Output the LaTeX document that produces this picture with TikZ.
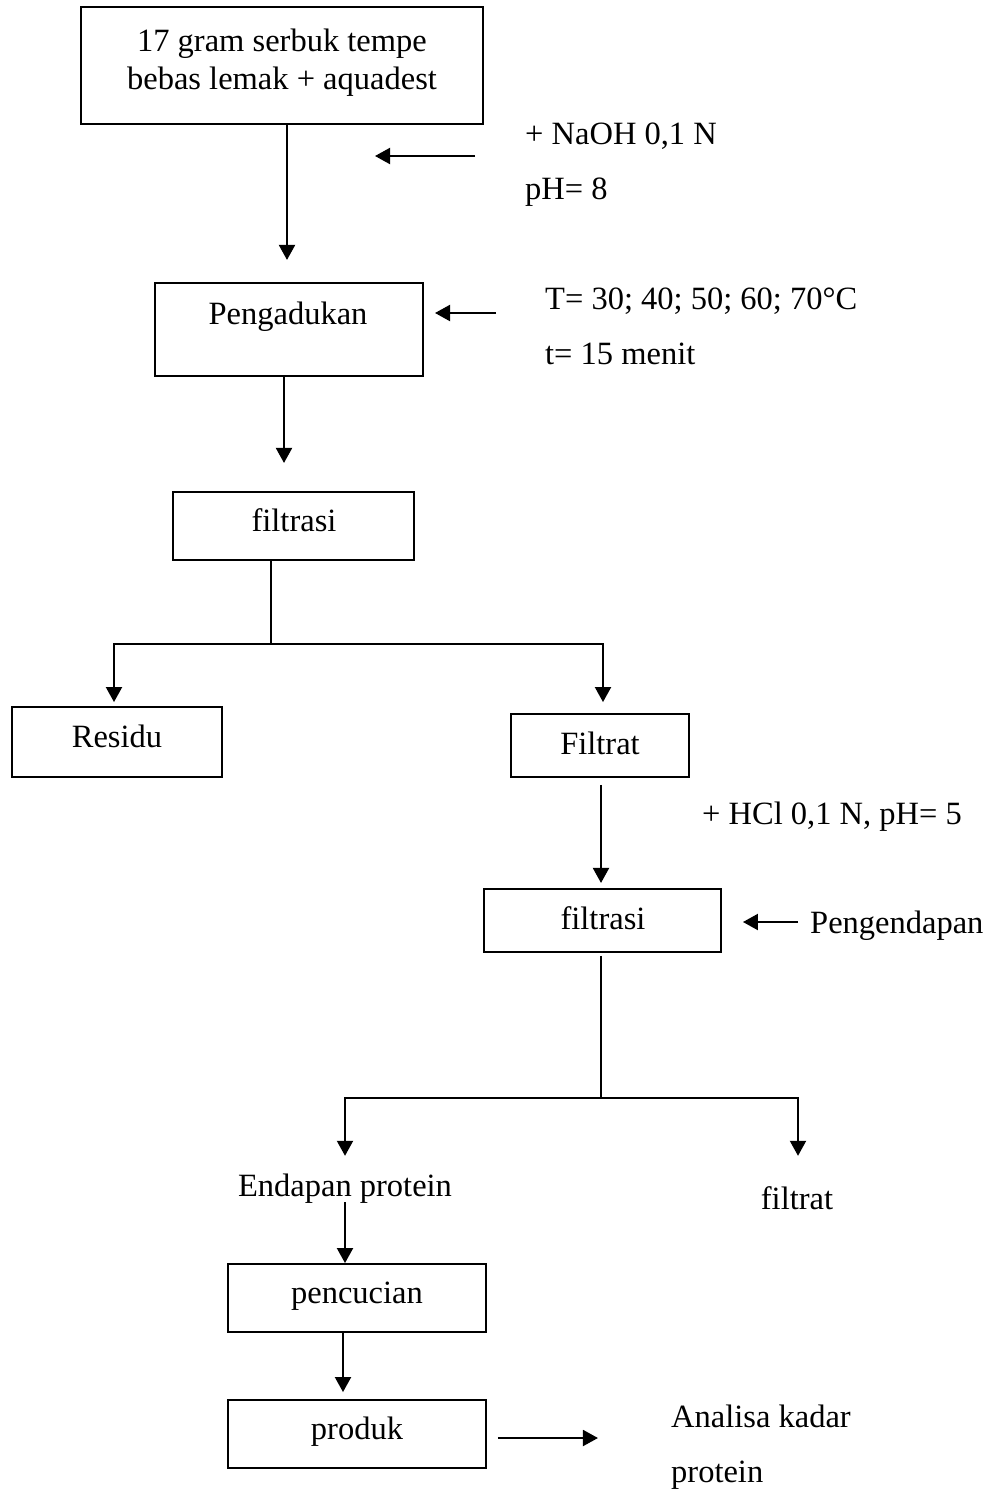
\documentclass[tikz,border=0pt]{standalone}
\usepackage{fontspec}
\setmainfont{Liberation Serif}
\usetikzlibrary{arrows.meta}
\begin{document}
\begin{tikzpicture}[x=1pt,y=-1pt,
  every node/.style={font=\fontsize{32.5}{38}\selectfont},
  box/.style={draw,line width=1.9pt,inner sep=0pt,minimum width=#1},
  txt/.style={inner sep=0pt,text height=22pt,text depth=0pt},
  arr/.style={line width=2pt,-{Triangle[length=15pt,width=16pt]}},
  stem/.style={line width=1.4pt},
  bar/.style={line width=2pt}]
\useasboundingbox (0,0) rectangle (1002,1492);
% boxes
\node[box=402pt,minimum height=117pt] (b1) at (282,65.5) {};
\node[align=center,inner sep=0pt] (b1t) at (282,62.5) {17 gram serbuk tempe\\bebas lemak + aquadest};
\node[box=268pt,minimum height=93pt] (b2) at (289,329.5) {};
\node[txt] (b2t) at (288,313) {Pengadukan};
\node[box=241pt,minimum height=68pt] (b3) at (293.5,526) {};
\node[txt] (b3t) at (294,520) {filtrasi};
\node[box=210pt,minimum height=70pt] (res) at (117,742) {};
\node[txt] (rest) at (117,736) {Residu};
\node[box=178pt,minimum height=63pt] (fil) at (600,745.5) {};
\node[txt] (filt) at (600,743) {Filtrat};
\node[box=237pt,minimum height=63pt] (f2) at (602.5,920.5) {};
\node[txt] (f2t) at (603,918) {filtrasi};
\node[box=258pt,minimum height=68pt] (pc) at (357,1298) {};
\node[txt] (pct) at (357,1292) {pencucian};
\node[box=258pt,minimum height=68pt] (pr) at (357,1434) {};
\node[txt] (prt) at (357,1428) {produk};
% side texts
\node[txt,anchor=west] (naoh) at (525,133) {+ NaOH 0,1 N};
\node[txt,anchor=west] (ph8) at (525,188) {pH= 8};
\node[txt,anchor=west] (temp) at (545,298) {T= 30; 40; 50; 60; 70°C};
\node[txt,anchor=west] (time) at (545,353) {t= 15 menit};
\node[txt,anchor=west] (hcl) at (702,813) {+ HCl 0,1 N, pH= 5};
\node[txt,anchor=west] (pen) at (810,922) {Pengendapan};
\node[txt] (end) at (345,1185) {Endapan protein};
\node[txt] (fil2) at (797,1198) {filtrat};
\node[txt,anchor=west] (ana1) at (671,1416) {Analisa kadar};
\node[txt,anchor=west] (ana2) at (671,1471) {protein};
% coordinates for free-standing arrows
\coordinate (s1a) at (475,156);
\coordinate (s1b) at (375,156);
\coordinate (s2a) at (496,313);
\coordinate (s2b) at (435,313);
% connectors
\draw[arr] ([xshift=5pt]b1.south) -- ++(0,135);
\draw[arr] (s1a) -- (s1b);
\draw[arr] (s2a) -- (s2b);
\draw[arr] ([xshift=-5pt]b2.south) -- ++(0,86);
\draw[stem] ([xshift=-22.5pt]b3.south) -- ++(0,83) coordinate (j1);
\draw[arr] (j1) -| ([xshift=-3pt,yshift=4pt]res.north);
\draw[arr] (j1) -| ([xshift=3pt,yshift=11pt]fil.north);
\draw[arr] ([xshift=1pt,yshift=-7pt]fil.south) -- ++(0,98);
\draw[arr,shorten <=12pt,shorten >=21pt] (pen.west) -- (pen.west -| f2.east);
\draw[stem] ([xshift=-1.5pt,yshift=-3pt]f2.south) -- ++(0,142) coordinate (j2);
\draw[arr] (j2) -| ([yshift=18pt]end.north);
\draw[arr] (j2) -| ([xshift=1pt,yshift=31pt]fil2.north);
\draw[arr] ([yshift=-6pt]end.south) -- (end.south |- pc.north);
\draw[arr] ([xshift=-14pt]pc.south) -- ([xshift=-14pt,yshift=7pt]pr.north);
\draw[arr] ([xshift=11pt,yshift=-4pt]pr.east) -- ++(100,0);
\end{tikzpicture}
\end{document}
